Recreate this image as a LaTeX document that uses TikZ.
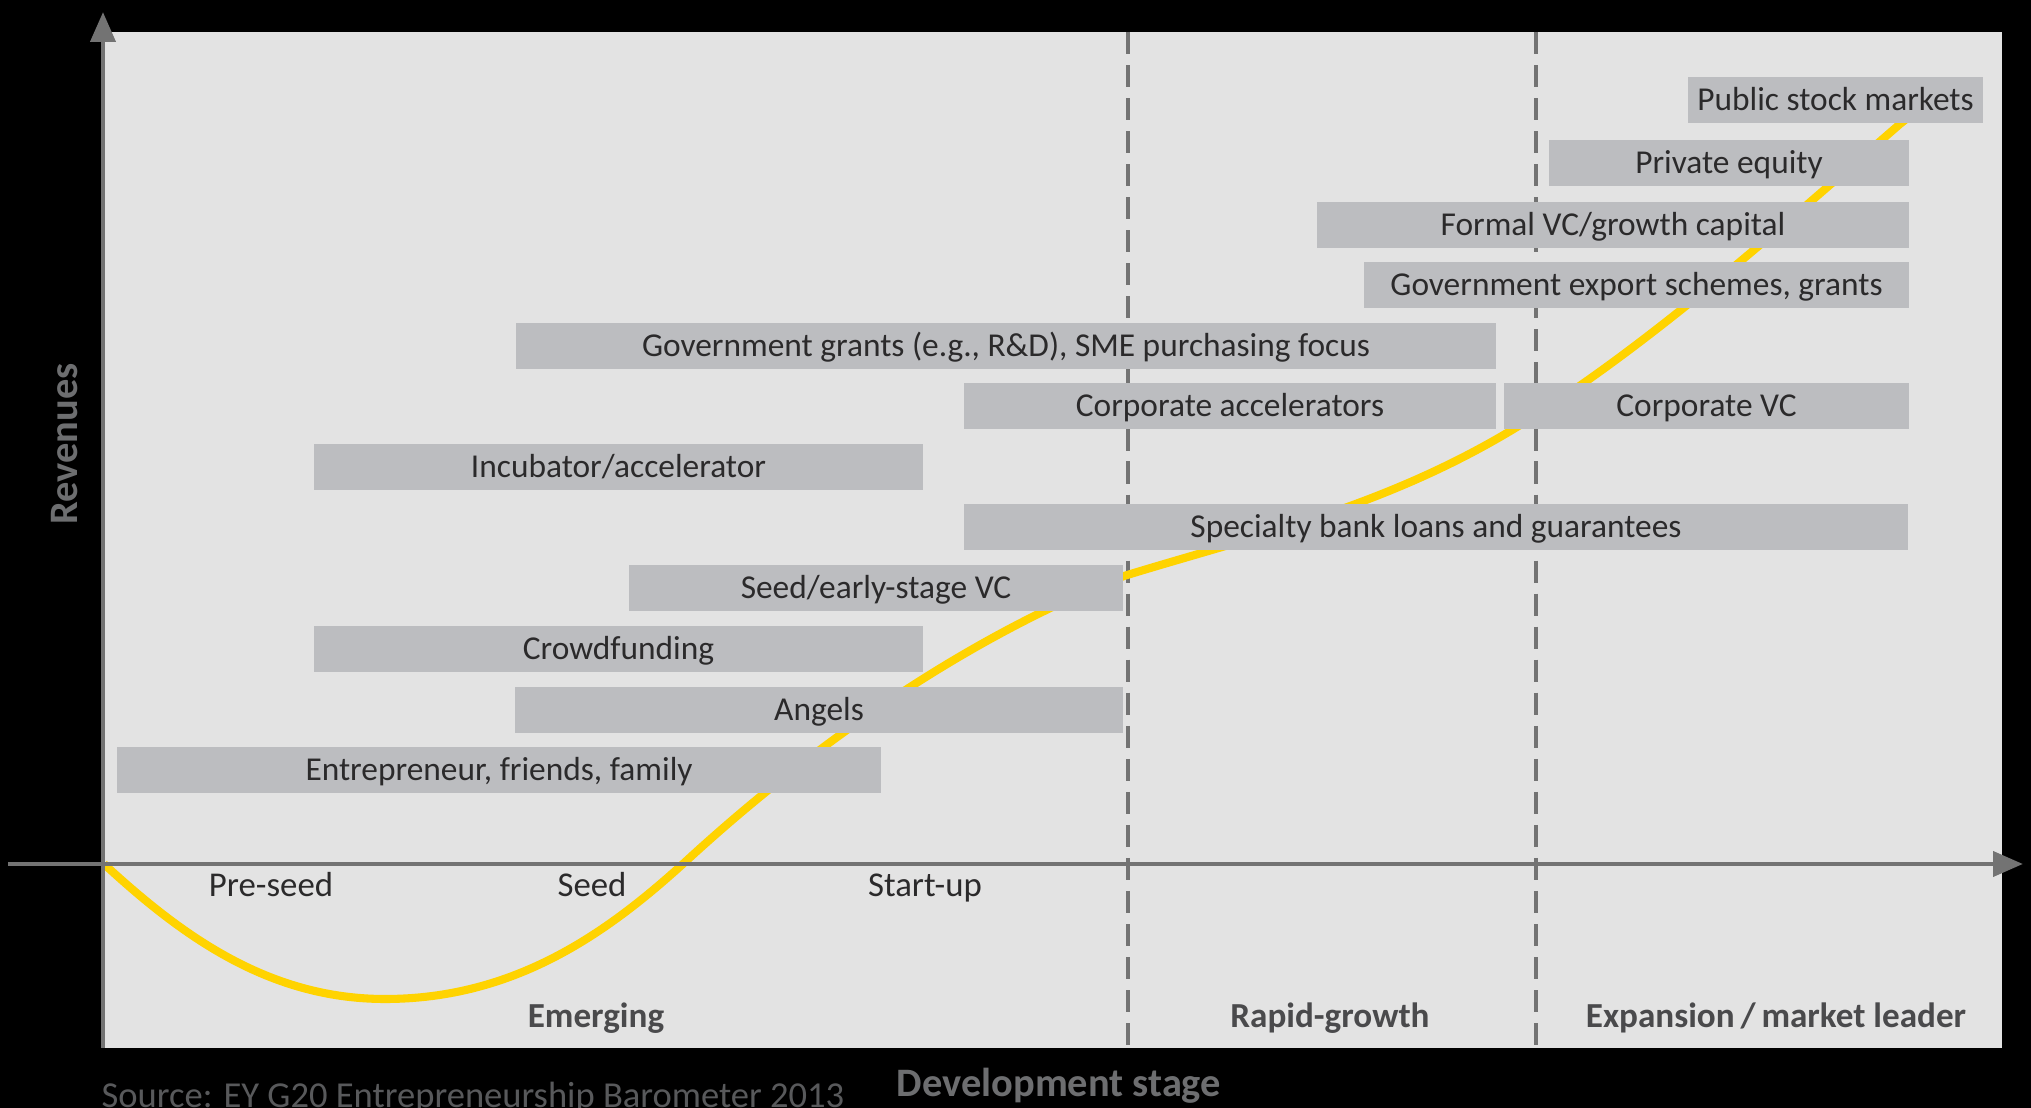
\documentclass[tikz,border=0pt]{standalone}
\usepackage{fontspec}
\setmainfont{Carlito}
\usepackage{tikz}
\usetikzlibrary{arrows.meta}

\definecolor{panelgray}{HTML}{E3E3E3}
\definecolor{bargray}{HTML}{BCBDC0}
\definecolor{axisgray}{HTML}{737373}
\definecolor{curveyellow}{HTML}{FFD300}
\definecolor{bartext}{HTML}{2B2A2B}
\definecolor{phasegray}{HTML}{4A4A4C}
\definecolor{titlegray}{HTML}{6D6E70}
\definecolor{sourcegray}{HTML}{58595B}

\tikzset{
  fundbar/.style={fill=bargray, inner sep=0pt, minimum height=0.465cm,
    text=bartext, font=\fontsize{9.5}{11}\selectfont,
    text height=6.1pt, text depth=0pt},
  stagelabel/.style={anchor=base, text=bartext, font=\fontsize{9.9}{11}\selectfont},
  phaselabel/.style={anchor=base, text=phasegray, font=\fontsize{10}{12}\selectfont\bfseries},
  axistitle/.style={text=titlegray, font=\fontsize{11.5}{13}\selectfont\bfseries},
  axisline/.style={axisgray, line width=1.4pt, -{Triangle[length=8.5pt,width=7pt]}},
  phaseline/.style={axisgray, line width=1pt, dash pattern=on 6.3pt off 3.1pt},
}

\begin{document}
\begin{tikzpicture}
    \fill[black] (0,0) rectangle (20.31,11.08);
    \useasboundingbox (0,0) rectangle (20.31,11.08);
    \fill[panelgray] (1.03,0.60) rectangle (20.02,10.76);

    % borders between the phases
    \draw[phaseline] (11.28,10.76) -- (11.28,0.60);
    \draw[phaseline] (15.36,10.76) -- (15.36,0.60);

    % revenues over time: dip, then steep rise, flatter, steep again
    \draw[curveyellow, line width=2.3pt] (1.04,2.44)
      .. controls (1.81,1.73) and (2.68,1.09) .. (3.85,1.09)
      .. controls (5.14,1.09) and (6.06,1.74) .. (6.84,2.45)
      .. controls (8.26,3.76) and (9.82,4.77) .. (11.24,5.32)
      .. controls (12.54,5.72) and (13.82,6.00) .. (15.12,6.78)
      .. controls (16.41,7.56) and (17.71,8.72) .. (19.00,9.84)
      -- (19.20,10.00);

    \draw[axisline] (1.03,0.60) -- (1.03,10.96);
    \draw[axisline] (0.08,2.44) -- (20.23,2.44);

    % sources of funding
    \foreach \Name/\Left/\Right/\Row/\Label in {
        pubstock/16.88/19.83/10.08/Public stock markets,
        privequity/15.49/19.09/9.45/Private equity,
        formalvc/13.17/19.09/8.83/{Formal VC/growth capital},
        govexport/13.64/19.09/8.23/{Government export schemes, grants},
        govgrants/5.16/14.96/7.62/{Government grants (e.g., R\&D), SME purchasing focus},
        corpaccel/9.64/14.96/7.02/Corporate accelerators,
        corpvc/15.04/19.09/7.02/Corporate VC,
        incubator/3.14/9.23/6.41/{Incubator/accelerator},
        bankloans/9.64/19.08/5.81/Specialty bank loans and guarantees,
        seedvc/6.29/11.23/5.20/{Seed/early-stage VC},
        crowdfunding/3.14/9.23/4.59/Crowdfunding,
        angels/5.15/11.23/3.98/Angels,
        founders/1.17/8.81/3.38/{Entrepreneur, friends, family}}
      \node[fundbar, minimum width={(\Right-\Left)*1cm}] (\Name)
        at ({(\Left+\Right)/2},\Row) {\Label};

    \node[stagelabel] (preseed) at (2.71,2.11) {Pre-seed};
    \node[stagelabel] (seed) at (5.92,2.11) {Seed};
    \node[stagelabel] (startup) at (9.25,2.11) {Start-up};

    \node[phaselabel] (emerging) at (5.96,0.80) {Emerging};
    \node[phaselabel] (rapid) at (13.30,0.80) {Rapid-growth};
    \node[phaselabel] (expansion) at (17.76,0.80) {Expansion\,/\,market leader};

    \node[axistitle, rotate=90] (revenues) at (0.65,6.64) {Revenues};
    \node[axistitle, anchor=base] (devstage) at (10.59,0.11) {Development stage};
    \node[anchor=base west, inner sep=0pt, text=sourcegray, font=\fontsize{10.4}{12}\selectfont]
      (source) at (1.01,0.0) {Source: EY G20 Entrepreneurship Barometer 2013};
\end{tikzpicture}
\end{document}
